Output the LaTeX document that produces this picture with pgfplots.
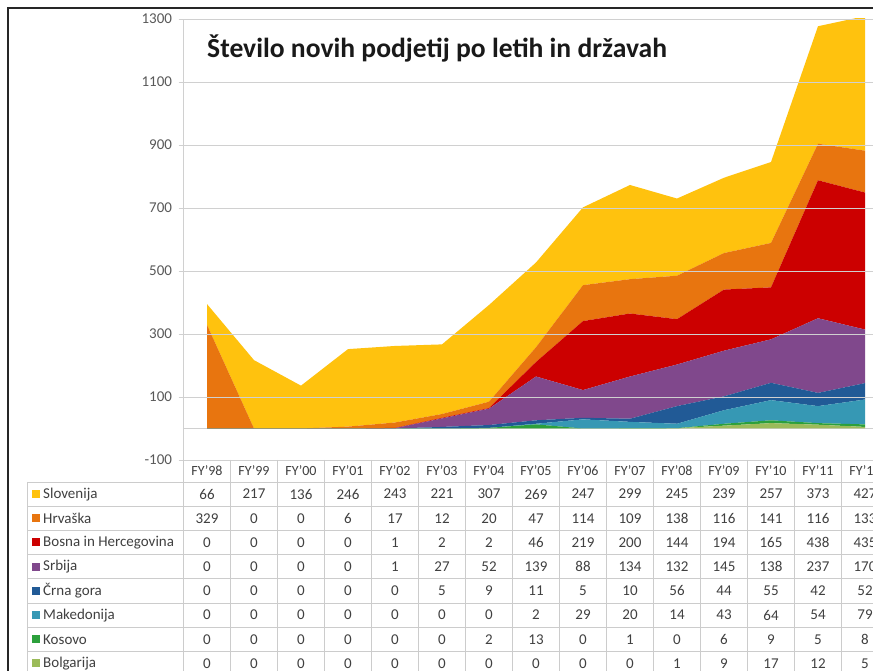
\documentclass[border=0pt]{standalone}
\usepackage{pgfplots}
\usepackage{pgfplotstable}
\pgfplotsset{compat=1.18}
\usepackage{fontspec}
\setmainfont{Carlito}
\definecolor{cslo}{HTML}{FFC20E}
\definecolor{chrv}{HTML}{E8750F}
\definecolor{cbih}{HTML}{CC0000}
\definecolor{csrb}{HTML}{80488C}
\definecolor{ccg}{HTML}{215A96}
\definecolor{cmak}{HTML}{3698B4}
\definecolor{ckos}{HTML}{2CA03C}
\definecolor{cbol}{HTML}{9BBB59}
\definecolor{gridc}{HTML}{D0D0D0}
\definecolor{tablec}{HTML}{CCCCCC}
\definecolor{tickc}{HTML}{595959}
\definecolor{textc}{HTML}{404040}
\pgfplotstableread{
x slo hrv bih srb cg mak kos bol
0 66 329 0 0 0 0 0 0
1 217 0 0 0 0 0 0 0
2 136 0 0 0 0 0 0 0
3 246 6 0 0 0 0 0 0
4 243 17 1 1 0 0 0 0
5 221 12 2 27 5 0 0 0
6 307 20 2 52 9 0 2 0
7 269 47 46 139 11 2 13 0
8 247 114 219 88 5 29 0 0
9 299 109 200 134 10 20 1 0
10 245 138 144 132 56 14 0 1
11 239 116 194 145 44 43 6 9
12 257 141 165 138 55 64 9 17
13 373 116 438 237 42 54 5 12
14 427 133 435 170 52 79 8 5
}\datatable
\begin{document}
\begin{tikzpicture}
\useasboundingbox (0,0) rectangle (873pt,671pt);
\clip (0,0) rectangle (873pt,671pt);
\fill[white] (0,0) rectangle (873pt,671pt);
\begin{axis}[
  at={(183.5pt,211pt)}, anchor=south west,
  x=47pt, y=0.315pt,
  xmin=-0.5, xmax=14.5, ymin=-100, ymax=1300,
  axis x line=none,
  axis y line*=left,
  y axis line style={-, draw=gridc, line width=0.8pt},
  ytick={-100,100,300,500,700,900,1100,1300},
  yticklabels={-100,100,300,500,700,900,1100,1300},
  ymajorgrids, grid style={gridc, line width=0.8pt},
  tick align=outside, major tick length=5pt,
  ytick style={draw=gridc, line width=0.8pt},
  yticklabel style={font=\fontsize{15}{18}\selectfont, text=tickc, xshift=-3pt},
  stack plots=y, area style,
]
\addplot[fill=cbol, draw=none] table[x=x,y=bol]{\datatable} \closedcycle;
\addplot[fill=ckos, draw=none] table[x=x,y=kos]{\datatable} \closedcycle;
\addplot[fill=cmak, draw=none] table[x=x,y=mak]{\datatable} \closedcycle;
\addplot[fill=ccg, draw=none] table[x=x,y=cg]{\datatable} \closedcycle;
\addplot[fill=csrb, draw=none] table[x=x,y=srb]{\datatable} \closedcycle;
\addplot[fill=cbih, draw=none] table[x=x,y=bih]{\datatable} \closedcycle;
\addplot[fill=chrv, draw=none] table[x=x,y=hrv]{\datatable} \closedcycle;
\addplot[fill=cslo, draw=none] table[x=x,y=slo]{\datatable} \closedcycle;
\draw[gridc, line width=0.8pt] (axis cs:-0.5,0) -- (axis cs:14.5,0);
\end{axis}
\begin{scope}[shift={(0pt,671pt)}, x=1pt, y=-1pt]
  % title
  \node[anchor=base west, inner sep=0pt, text=black!90, font=\fontsize{27.6}{32}\selectfont\bfseries] at (207,58) {Število novih podjetij po letih in državah};
  % table grid
  \foreach \k in {0,...,15} { \draw[tablec, line width=0.8pt] (183.5+47*\k,460) -- (183.5+47*\k,671); }
  \draw[tablec, line width=0.8pt] (27,482) -- (27,671);
  \foreach \i in {0,...,7} { \draw[tablec, line width=0.8pt] (27,482+24.2*\i) -- (873,482+24.2*\i); }
  % header
  \foreach \lab [count=\k from 0] in {98,99,00,01,02,03,04,05,06,07,08,09,10,11,12} {
    \node[text=textc, font=\fontsize{14}{16}\selectfont, inner sep=0pt] at (207+47*\k,471) {FY'\lab};
  }
  % row labels
  \foreach \nm/\cc [count=\i from 0] in {Slovenija/cslo,Hrvaška/chrv,Bosna in Hercegovina/cbih,Srbija/csrb,Črna gora/ccg,Makedonija/cmak,Kosovo/ckos,Bolgarija/cbol} {
    \fill[\cc] (32,490+24.2*\i) rectangle (40,498+24.2*\i);
    \node[anchor=west, inner sep=0pt, text=textc, font=\fontsize{15}{18}\selectfont] at (43,494.1+24.2*\i) {\nm};
  }
  % values
  \foreach \r in {0,...,14} {
    \foreach \c [count=\i from 0] in {slo,hrv,bih,srb,cg,mak,kos,bol} {
      \pgfplotstablegetelem{\r}{\c}\of\datatable
      \node[inner sep=0pt, text=textc, font=\fontsize{15}{18}\selectfont] at (207+47*\r,494.1+24.2*\i) {\pgfplotsretval};
    }
  }
  % frame
  \draw[black!85, line width=2pt] (8,671) -- (8,8) -- (873,8);
\end{scope}
\end{tikzpicture}
\end{document}
